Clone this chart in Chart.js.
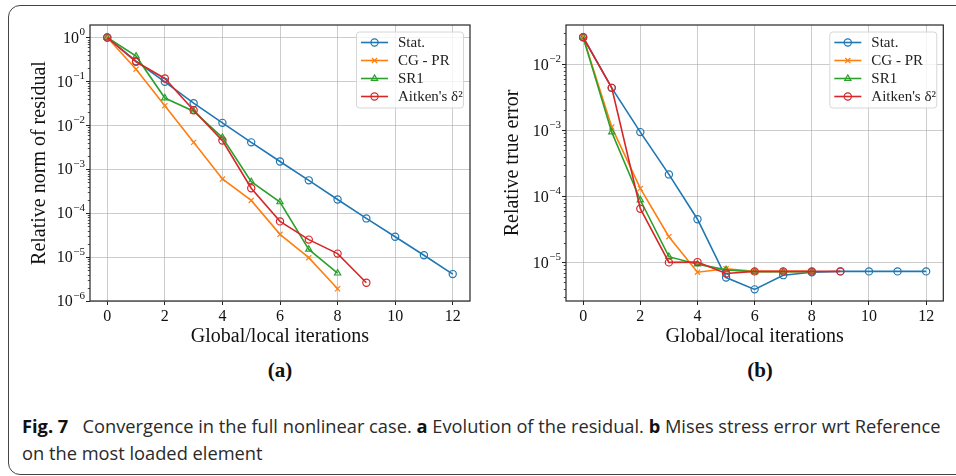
<!DOCTYPE html>
<html><head><meta charset="utf-8">
<script src="https://cdn.jsdelivr.net/npm/chart.js@4"></script>
<style>
html,body{margin:0;padding:0;background:#fff;width:956px;height:476px;overflow:hidden}
body{position:relative}
#frame{position:absolute;left:8px;top:5px;width:990px;height:470px;border:1.5px solid #444;border-radius:12px;box-sizing:border-box}
#w1{position:absolute;left:0;top:0;width:480px;height:350px}
#w2{position:absolute;left:480px;top:0;width:476px;height:350px}
.sub{position:absolute;top:358px;width:100px;text-align:center;font-family:"Liberation Serif",serif;font-weight:bold;font-size:21px;color:#111}
#cap{position:absolute;left:22px;top:413px;font-family:"Open Sans","Noto Sans",sans-serif;font-size:18px;line-height:27px;white-space:nowrap;transform-origin:0 0;color:#2a2a2a}
#cap b{font-weight:bold;color:#111}
</style>
</head><body>
<div id="frame"></div>
<div id="w1"><canvas id="c1" width="480" height="350"></canvas></div>
<div id="w2"><canvas id="c2" width="476" height="350"></canvas></div>
<div class="sub" style="left:230px">(a)</div>
<div class="sub" style="left:710px">(b)</div>
<div id="cap"><div id="l1"><b>Fig. 7</b>&nbsp;&nbsp; Convergence in the full nonlinear case. <b>a</b> Evolution of the residual. <b>b</b> Mises stress error wrt Reference</div><div>on the most loaded element</div></div>
<script>
// ---- data ----
const seriesLabels = ['Stat.', 'CG - PR', 'SR1', "Aitken's \u03B4\u00B2"];
const seriesColors = ['#1f77b4', '#ff7f0e', '#2ca02c', '#d62728'];
const seriesMarkers = ['circle', 'crossRot', 'triangle', 'circle'];

const residualStat   = [1.0, 0.29, 0.098, 0.032, 0.0114, 0.0041, 0.0015, 5.6e-4, 2.05e-4, 7.6e-5, 2.9e-5, 1.1e-5, 4.1e-6];
const residualCG     = [1.0, 0.19, 0.028, 0.0041, 6.0e-4, 1.95e-4, 3.3e-5, 9.7e-6, 1.9e-6];
const residualSR1    = [1.0, 0.376, 0.042, 0.021, 0.0053, 5.2e-4, 1.8e-4, 1.5e-5, 4.3e-6];
const residualAitken = [1.0, 0.28, 0.117, 0.022, 0.0045, 3.7e-4, 6.5e-5, 2.5e-5, 1.2e-5, 2.6e-6];

const errorStat   = [0.0257, 0.0044, 9.4e-4, 2.15e-4, 4.5e-5, 5.9e-6, 3.9e-6, 6.4e-6, 7.1e-6, 7.3e-6, 7.3e-6, 7.3e-6, 7.3e-6];
const errorCG     = [0.0257, 1.12e-3, 1.32e-4, 2.45e-5, 7.1e-6, 8.0e-6, 7.3e-6, 7.3e-6, 7.3e-6];
const errorSR1    = [0.0257, 9.4e-4, 8.8e-5, 1.22e-5, 9.4e-6, 7.7e-6, 7.2e-6, 7.2e-6, 7.2e-6];
const errorAitken = [0.0257, 0.0044, 6.5e-5, 1.0e-5, 1.01e-5, 6.8e-6, 7.3e-6, 7.3e-6, 7.3e-6, 7.3e-6];

const xTicks = [0, 2, 4, 6, 8, 10, 12];
const residualTicks = [1, 1e-1, 1e-2, 1e-3, 1e-4, 1e-5, 1e-6];
const errorTicks = [1e-2, 1e-3, 1e-4, 1e-5];

// ---- helpers ----
const SERIF = '"Liberation Serif", serif';

function makeDatasets(arrs){
  return arrs.map((arr,i)=>({
    label: seriesLabels[i],
    data: arr.map((v,k)=>({x:k, y:v})),
    borderColor: seriesColors[i],
    backgroundColor: 'rgba(255,255,255,0)',
    pointStyle: seriesMarkers[i],
    pointRadius: 3.6,
    pointBorderWidth: 1.2,
    pointBorderColor: seriesColors[i],
    pointBackgroundColor: 'rgba(255,255,255,0)',
    borderWidth: 1.6,
    tension: 0,
    order: 3 - i
  }));
}

const framePlugin = {
  id: 'frameAndLegend',
  afterDraw(chart){
    const ctx = chart.ctx, a = chart.chartArea, ys = chart.scales.y;
    ctx.save();
    // minor ticks on log axis
    ctx.strokeStyle = '#222'; ctx.lineWidth = 0.8;
    const lo = Math.floor(Math.log10(ys.min)), hi = Math.ceil(Math.log10(ys.max));
    for (let d = lo; d <= hi; d++) for (let k = 2; k <= 9; k++){
      const v = k * Math.pow(10, d);
      if (v < ys.min || v > ys.max) continue;
      const py = Math.round(ys.getPixelForValue(v)) + 0.5;
      ctx.beginPath(); ctx.moveTo(a.left - 2.2, py); ctx.lineTo(a.left, py); ctx.stroke();
    }
    // y tick labels as 10 with superscript exponent
    ctx.fillStyle = '#111';
    ys.ticks.forEach(t => {
      const v = t.value;
      const e = Math.round(Math.log10(v));
      const expTxt = (e < 0 ? '\u2212' : '') + Math.abs(e);
      const py = ys.getPixelForValue(v);
      const xEnd = a.left - 5;
      ctx.font = '11px ' + SERIF;
      const wE = ctx.measureText(expTxt).width;
      ctx.textAlign = 'left'; ctx.textBaseline = 'middle';
      ctx.fillText(expTxt, xEnd - wE, py - 5);
      ctx.font = '16px ' + SERIF;
      const w10 = ctx.measureText('10').width;
      ctx.fillText('10', xEnd - wE - w10 - 0.5, py + 1);
    });
    // frame
    ctx.strokeStyle = '#262626'; ctx.lineWidth = 1.2;
    ctx.strokeRect(a.left, a.top, a.right - a.left, a.bottom - a.top);
    // legend
    const bw = 107, bh = 76;
    const bx = a.right - 7 - bw, by = a.top + 6.5;
    ctx.beginPath();
    ctx.roundRect(bx + 0.5, by + 0.5, bw, bh, 3);
    ctx.fillStyle = 'rgba(255,255,255,0.8)'; ctx.fill();
    ctx.strokeStyle = '#d6d6d6'; ctx.lineWidth = 1; ctx.stroke();
    chart.data.datasets.forEach((ds, i) => {
      const yy = by + 11 + i * 18;
      ctx.strokeStyle = ds.borderColor; ctx.lineWidth = 1.6;
      ctx.beginPath(); ctx.moveTo(bx + 5, yy); ctx.lineTo(bx + 32, yy); ctx.stroke();
      ctx.lineWidth = 1.2;
      ctx.fillStyle = 'rgba(255,255,255,0)';
      Chart.helpers.drawPoint(ctx, {pointStyle: ds.pointStyle, radius: 3.6, borderWidth: 1.2, rotation: 0}, bx + 18.5, yy);
      ctx.fillStyle = '#222';
      ctx.font = '15px ' + SERIF; ctx.textBaseline = 'middle'; ctx.textAlign = 'left';
      ctx.fillText(ds.label, bx + 42, yy + 1);
    });
    ctx.restore();
  }
};

function makeChart(id, arrs, yTitle, yTicks, yMin, yMax, yWidth, yTitlePad, padRight){
  return new Chart(document.getElementById(id), {
    type: 'line',
    data: { datasets: makeDatasets(arrs) },
    options: {
      responsive: false, animation: false, devicePixelRatio: 1,
      layout: { padding: { left: 0, right: padRight, top: 25, bottom: 0 } },
      plugins: { legend: { display: false }, tooltip: { enabled: false } },
      scales: {
        x: {
          type: 'linear', min: -0.6, max: 12.6,
          afterBuildTicks: s => { s.ticks = xTicks.map(v => ({value: v})); },
          afterFit: s => { s.height = 49; },
          grid: { color: 'rgba(170,170,170,0.6)', lineWidth: 1, tickLength: 4, tickColor: '#222' },
          border: { display: false },
          ticks: { color: '#111', font: { family: SERIF, size: 16 }, padding: 2, maxRotation: 0, callback: v => String(v) },
          title: { display: true, text: 'Global/local iterations', color: '#111', font: { family: SERIF, size: 20 }, padding: { top: 0, bottom: 1 } }
        },
        y: {
          type: 'logarithmic', min: yMin, max: yMax,
          afterBuildTicks: s => { s.ticks = yTicks.map(v => ({value: v})); },
          afterFit: s => { s.width = yWidth; },
          grid: { color: 'rgba(170,170,170,0.6)', lineWidth: 1, tickLength: 4, tickColor: '#222' },
          border: { display: false },
          ticks: { display: false },
          title: { display: true, text: yTitle, color: '#111', font: { family: SERIF, size: 20 }, padding: { top: yTitlePad, bottom: 0 } }
        }
      }
    },
    plugins: [framePlugin]
  });
}

makeChart('c1', [residualStat, residualCG, residualSR1, residualAitken], 'Relative norm of residual', residualTicks, 1e-6, 1.93, 90, 28, 10);
makeChart('c2', [errorStat, errorCG, errorSR1, errorAitken], 'Relative true error', errorTicks, 2.6e-6, 0.0394, 86, 21, 12.7);

// fit caption width to the reference line length
const cap = document.getElementById('cap');
const l1 = document.getElementById('l1');
const w = l1.scrollWidth;
cap.style.transform = 'scaleX(' + (918 / w) + ')';
</script>
</body></html>
